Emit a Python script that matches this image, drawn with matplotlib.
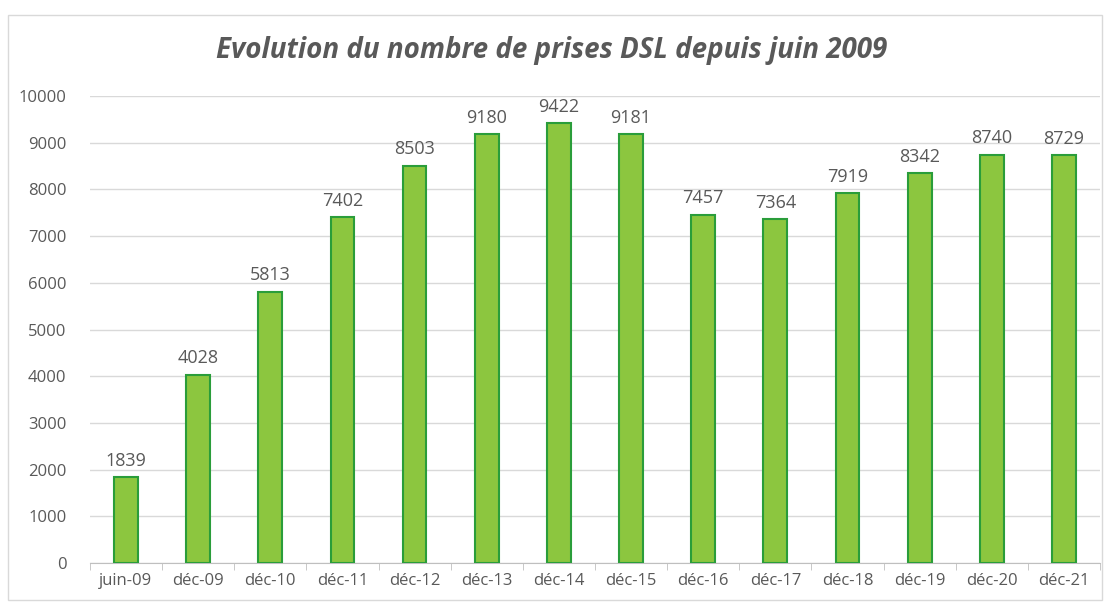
import numpy as np
import matplotlib.pyplot as plt
from matplotlib.patches import Rectangle

categories = ["juin-09", "déc-09", "déc-10", "déc-11", "déc-12", "déc-13", "déc-14",
              "déc-15", "déc-16", "déc-17", "déc-18", "déc-19", "déc-20", "déc-21"]
values = [1839, 4028, 5813, 7402, 8503, 9180, 9422, 9181, 7457, 7364, 7919, 8342, 8740, 8729]
yticks = [0, 1000, 2000, 3000, 4000, 5000, 6000, 7000, 8000, 9000, 10000]

plt.rcParams['font.family'] = ['Open Sans', 'DejaVu Sans']
text_col = "#595959"

fig = plt.figure(figsize=(11.1, 6.03), dpi=100)
fig.patches.append(Rectangle((8 / 1110, 3 / 603), 1094 / 1110, 585 / 603,
                             transform=fig.transFigure, fill=False,
                             edgecolor="#d9d9d9", linewidth=1))
ax = fig.add_axes([0.081, 0.0663, 0.91, 0.7745])

x = np.arange(len(categories))
ax.bar(x, values, width=0.33, color="#8cc63f", edgecolor="#2a9d3a", linewidth=1.5, zorder=3)
for xi, v in zip(x, values):
    ax.text(xi, v + 160, str(v), ha="center", va="bottom", fontsize=13, color=text_col)

ax.set_xlim(-0.5, len(categories) - 0.5)
ax.set_ylim(0, 10000)
ax.set_yticks(yticks)
ax.yaxis.grid(True, color="#d9d9d9", linewidth=1, zorder=0)
ax.set_xticks(x)
ax.set_xticklabels(categories)
ax.set_xticks(np.arange(-0.5, len(categories) + 0.5, 1), minor=True)
ax.tick_params(axis="x", which="major", length=0, pad=7, labelsize=12, colors=text_col)
ax.tick_params(axis="x", which="minor", length=5, color="#bfbfbf", direction="out")
ax.tick_params(axis="y", length=0, pad=17, labelsize=12, colors=text_col)
for side in ["top", "right", "left"]:
    ax.spines[side].set_visible(False)
ax.spines["bottom"].set_color("#bfbfbf")

fig.text(0.497, 0.917, "Evolution du nombre de prises DSL depuis juin 2009",
         ha="center", va="center", fontsize=20, fontweight="bold", fontstyle="italic",
         color=text_col)

fig.savefig("out.png", dpi=100)
